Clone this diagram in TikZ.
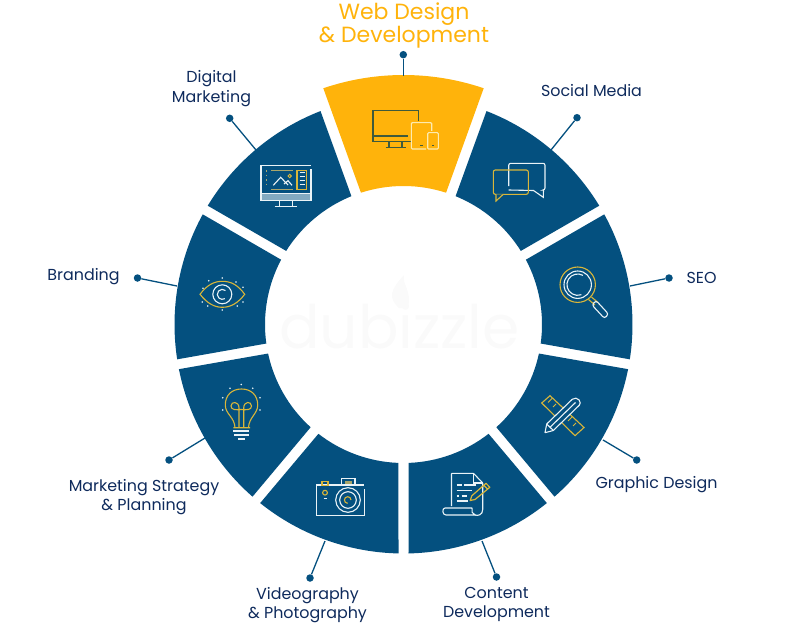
\documentclass[tikz,border=0pt]{standalone}
\usepackage{fontspec}
\setmainfont{Poppins}
\usepackage{xcolor}
\usetikzlibrary{positioning}

\definecolor{ringblue}{HTML}{04507F}
\definecolor{ringyellow}{HTML}{FFB30B}
\definecolor{labelblue}{HTML}{0E2A5C}
\definecolor{iconyellow}{HTML}{D9B63A}
\definecolor{iconolive}{HTML}{A9A66B}
\definecolor{iconwhite}{HTML}{EAF3F7}
\definecolor{webdark}{HTML}{3F5A3C}
\definecolor{webpale}{HTML}{FDEBB0}
\definecolor{markgrey}{HTML}{FAFAFA}

\tikzset{
  label/.style={text=labelblue, font=\fontsize{15.9}{19.7}\selectfont, align=center},
  pin/.style={circle, fill=ringblue, draw=none, inner sep=0pt, minimum size=7.5pt},
  pinline/.style={ringblue, line width=1.3pt},
  wl/.style={iconwhite, line width=1.1pt},
  yl/.style={iconyellow, line width=1.1pt},
  dotw/.style={fill=iconwhite, draw=none}
}

% one piece of the ring: centre angle, outer radius, colour
\newcommand{\ringseg}[3]{
  \fill[#3] (#1+18.75:#2pt) arc (#1+18.75:#1-18.75:#2pt) -- (#1-17.9:138.5pt) arc (#1-17.9:#1+17.9:138.5pt) -- cycle;
}

\begin{document}
\begin{tikzpicture}[x=1pt, y=-1pt]
\useasboundingbox (0,0) rectangle (800,623);

% faint mark in the middle
\node[text=markgrey, font=\fontsize{60}{60}\selectfont] (mark) at (399.5,326) {dubizzle};
\fill[markgrey] (399,308) .. controls (388,298) and (390,290) .. (404,275) .. controls (402,285) and (412,290) .. (408,308) -- cycle;

\begin{scope}[shift={(403.5,324.5)}]
\ringseg{90}{249.5}{ringyellow}
\ringseg{50}{229}{ringblue}
\ringseg{10}{229}{ringblue}
\ringseg{-30}{229}{ringblue}
\ringseg{-70}{229}{ringblue}
\ringseg{-110}{229}{ringblue}
\ringseg{-150}{229}{ringblue}
\ringseg{170}{229}{ringblue}
\ringseg{130}{229}{ringblue}
\end{scope}

% labels
\node[text=ringyellow, font=\fontsize{22}{22.5}\selectfont, align=center] (web) at (404,25.5) {Web Design\\\& Development};
\node[label] (social) at (591.5,91) {Social Media};
\node[label] (seo) at (701.5,278) {SEO};
\node[label] (graphic) at (656.5,484.5) {Graphic Design};
\node[label] (content) at (496.5,604.5) {Content\\Development};
\node[label] (video) at (307.5,605) {Videography\\\& Photography};
\node[label] (strategy) at (144,497) {Marketing Strategy\\\& Planning};
\node[label] (branding) at (83.5,276.5) {Branding};
\node[label] (digital) at (211.5,88.5) {Digital\\Marketing};

% pins
\node[pin] (pin_web) at (403.3,54.7) {};
\node[pin] (pin_social) at (577,117.7) {};
\node[pin] (pin_seo) at (669,278) {};
\node[pin] (pin_graphic) at (636.7,460) {};
\node[pin] (pin_content) at (496.5,577) {};
\node[pin] (pin_video) at (310,578) {};
\node[pin] (pin_strategy) at (169,460) {};
\node[pin] (pin_branding) at (137.5,278) {};
\node[pin] (pin_digital) at (229.7,118.3) {};

\coordinate (end_web) at (403.3,76);
\coordinate (end_social) at (551,150);
\coordinate (end_seo) at (630,286);
\coordinate (end_graphic) at (603,440);
\coordinate (end_content) at (482,541);
\coordinate (end_video) at (325,541);
\coordinate (end_strategy) at (205,438);
\coordinate (end_branding) at (177,286);
\coordinate (end_digital) at (256,150);

\draw[pinline] (pin_web) -- (end_web);
\draw[pinline] (pin_social) -- (end_social);
\draw[pinline] (pin_seo) -- (end_seo);
\draw[pinline] (pin_graphic) -- (end_graphic);
\draw[pinline] (pin_content) -- (end_content);
\draw[pinline] (pin_video) -- (end_video);
\draw[pinline] (pin_strategy) -- (end_strategy);
\draw[pinline] (pin_branding) -- (end_branding);
\draw[pinline] (pin_digital) -- (end_digital);

% web design icon
\draw[webdark, line width=1.1pt] (418.7,121) -- (418.7,110.3) -- (373,110.3) -- (373,141.7) -- (411,141.7);
\draw[webdark, line width=1.1pt] (373,136) -- (407.5,136);
\draw[webdark, line width=1.1pt] (389,142) -- (389,147) (402,142) -- (402,147) (385.5,147.3) -- (406,147.3);
\draw[webpale, line width=1.1pt, rounded corners=1pt] (431.7,131) -- (431.7,122.7) -- (411.3,122.7) -- (411.3,149) -- (426,149);
\draw[webpale, line width=1.1pt, rounded corners=1pt] (427.7,132.7) rectangle (438.3,149);
\draw[webdark, line width=1pt] (420,145.3) -- (423,145.3) (432,145.3) -- (434,145.3);

% social media icon
\draw[wl, rounded corners=2pt] (508.7,186) -- (508.7,163.3) -- (545,163.3) -- (545,190) -- (543.5,190);
\draw[wl] (543.5,190) -- (543.3,197.3) -- (533.5,190.5) -- (508.7,190);
\draw[yl, rounded corners=2pt] (493.3,170) rectangle (528.3,194.3);
\draw[iconyellow, line width=1.1pt, fill=ringblue] (503.3,194.3) -- (496,201) -- (496,194.3);

% digital marketing icon
\draw[wl] (261,165.3) -- (311,165.3) (311,169) -- (311,200) -- (261,200) -- (261,165.3) (261,193.3) -- (311,193.3);
\fill[iconwhite!55!ringblue] (262,194) rectangle (310,199.5);
\draw[wl] (279.3,200) -- (279.3,206) (292.7,200) -- (292.7,206) (274.7,206.7) -- (297.3,206.7);
\draw[iconolive, line width=1.5pt] (271,170.3) -- (292.7,170.3) (271,189.7) -- (292.7,189.7);
\draw[iconolive, line width=1.5pt, dash pattern=on 1.5pt off 3pt] (266.7,170) -- (266.7,184);
\draw[wl] (273.3,185.3) -- (280.7,177.3) -- (288,185) (284,184) -- (288,180.7) -- (292,185.3);
\draw[iconyellow, line width=1pt] (289.7,176) circle (1.7pt);
\draw[yl] (297,170.7) rectangle (306.7,189.3);
\draw[iconwhite, line width=1.3pt] (299.5,172.5) -- (304.5,172.5) (299.5,176.5) -- (304.5,176.5) (299.5,180.5) -- (304.5,180.5) (299.5,184.5) -- (304.5,184.5);

% branding icon
\draw[yl] (200,294.3) .. controls (207,285) and (214,281.3) .. (222.3,281.3) .. controls (231,281.3) and (238,285) .. (244.7,294.3) .. controls (238,303) and (231,307.3) .. (222.3,307.3) .. controls (214,307.3) and (207,303) .. (200,294.3) -- cycle;
\draw[wl] (222.3,294.3) circle (9.5pt);
\draw[wl] (225.5,290.5) arc (50:300:5pt);
\foreach \dotx/\doty in {222.3/278, 208.7/280.7, 236/282, 203/288.3, 243/287.3, 207.7/306, 222.3/310, 237.3/306, 202.3/302, 243/302}
  \fill[dotw] (\dotx,\doty) circle (0.9pt);

% strategy icon
\draw[iconyellow, line width=1.1pt] (233.3,427.7) -- (250,427.7) (235,427.7) .. controls (234.5,417) and (225.3,414) .. (225.3,405) .. controls (225.3,395) and (232,389) .. (241.5,389) .. controls (251,389) and (257.7,395) .. (257.7,405) .. controls (257.7,414) and (249,417) .. (248.5,427.7);
\draw[iconyellow, line width=1.1pt] (239,427.7) -- (239,408) .. controls (239,401) and (231,401) .. (231,406) .. controls (231,410) and (236,410) .. (241,409.5);
\draw[iconyellow, line width=1.1pt] (243.7,427.7) -- (243.7,408) .. controls (243.7,401) and (251.5,401) .. (251.5,406) .. controls (251.5,410) and (247,410) .. (241,409.5);
\draw[wl] (233.3,431) -- (249.3,431) (234,435) -- (248.7,435) (238.3,439) -- (245,439);
\foreach \dotx/\doty in {241.3/384.5, 230/388.3, 252.7/388.3, 222.7/397.7, 260/397.7, 222.7/410, 260/410}
  \fill[dotw] (\dotx,\doty) circle (0.9pt);

% camera icon
\draw[wl] (364.3,489) -- (364.3,515.7) -- (316.7,515.7) -- (316.7,485) -- (364.3,485);
\draw[wl] (341.3,485) -- (341.3,478.3) -- (355,478.3) -- (355,485);
\fill[iconolive] (345,481) rectangle (351.5,483.5);
\draw[wl] (348,500) circle (12.3pt) (348,500) circle (8.3pt);
\draw[yl] (351,500) arc (0:270:3.3pt);
\draw[yl] (322,481.7) rectangle (328,485.7);
\draw[yl] (325,492.7) circle (2.4pt);
\draw[wl] (323.5,498.7) -- (326.7,498.7);

% content icon
\draw[wl, rounded corners=0.5pt] (451.5,506) -- (451.5,473.3) -- (473.5,473.3) -- (482.7,483) -- (482.7,509) .. controls (482.7,515) and (478,516) .. (475,515);
\draw[wl] (473.5,473.3) -- (473.5,483) -- (482.7,483);
\draw[wl] (472,508) -- (445,508) .. controls (442,508) and (442,515) .. (446,515) -- (475,515) .. controls (472,514) and (471.5,511) .. (472,508);
\draw[wl] (456.7,485) -- (461.7,485) (464,485) -- (476,485) (456.7,490.7) -- (471.7,490.7) (456.7,496) -- (459.3,496) (461.7,496) -- (466.7,496) (456.7,501) -- (468.3,501);
\draw[iconyellow, line width=1.2pt, line join=round] (470.2,500.5) -- (471.8,495.8) -- (486,483.3) -- (489.8,487.3) -- (475,499.5) -- cycle (484,485.5) -- (487.8,489.3);

% seo icon
\draw[yl] (577.7,284.7) circle (17.7pt);
\draw[wl] (577.7,284.7) circle (13.7pt);
\draw[wl] (583,275.4) arc (60:290:10.7pt);
\draw[iconyellow, line width=1.1pt] (588.5,299.5) -- (595,305) (591.5,297) -- (598,302.5);
\draw[wl, rounded corners=2.5pt] (592,305) -- (596,300.5) -- (608.5,314) -- (604.5,318.5) -- cycle;

% graphic design icon
\draw[yl] (541.7,403) -- (550,395.7) -- (584,427.5) -- (575,435.7) -- cycle;
\draw[iconyellow, line width=1pt] (548,402.5) -- (552,398.5) (553,407) -- (556,404) (568,421) -- (572,417) (573,426) -- (576,423);
\draw[wl, fill=ringblue, rounded corners=0.4pt] (545,432.7) -- (546.7,424) -- (572,399.5) .. controls (574.5,397.5) and (577.5,398) .. (579,400) .. controls (580.5,402) and (580.5,404) .. (579,405.5) -- (553.3,430.5) -- cycle;
\draw[wl] (550,427.3) -- (575.5,402.5) (546.7,424) -- (553.3,430.5);

\end{tikzpicture}
\end{document}
